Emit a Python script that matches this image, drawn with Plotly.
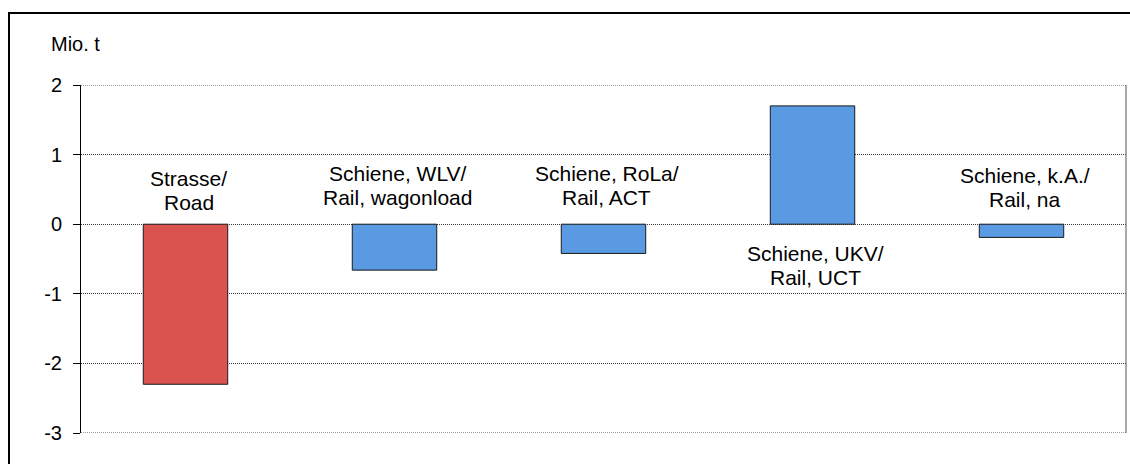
import plotly.graph_objects as go

# ---- data ----
categories = ["Strasse/Road", "Schiene, WLV/Rail, wagonload", "Schiene, RoLa/Rail, ACT",
              "Schiene, UKV/Rail, UCT", "Schiene, k.A./Rail, na"]
values = [-2.30, -0.66, -0.42, 1.70, -0.19]
label_line1 = ["Strasse/", "Schiene, WLV/", "Schiene, RoLa/", "Schiene, UKV/", "Schiene, k.A./"]
label_line2 = ["Road", "Rail, wagonload", "Rail, ACT", "Rail, UCT", "Rail, na"]
tick_vals = [-3, -2, -1, 0, 1, 2]
tick_text = ["-3", "-2", "-1", "0", "1", "2"]
y_title = "Mio. t"

# ---- layout/positions (not data) ----
label_y = [0.49, 0.56, 0.56, -0.60, 0.53]
bar_colors = ["#DA534F", "#5A9AE2", "#5A9AE2", "#5A9AE2", "#5A9AE2"]
W, H = 1130, 464
ML, MR, MT, MB = 81, 4, 85, 31
FONT = "Liberation Sans, Arial, sans-serif"
GRID = "#3a3a3a"

pw = W - ML - MR
ph = H - MT - MB

def px_to_paper_x(px):
    return (px - ML) / pw

def px_to_paper_y(py):
    return 1 - (py - MT) / ph

fig = go.Figure()
fig.add_trace(go.Bar(
    x=list(range(len(categories))), y=values,
    width=0.404,
    marker=dict(color=bar_colors, line=dict(color="#1a1a1a", width=1)),
    hoverinfo="skip",
))

annotations = []
for i in range(len(categories)):
    annotations.append(dict(x=i, y=label_y[i], xref="x", yref="y", text=label_line1[i],
                            showarrow=False, xanchor="center", yanchor="middle",
                            yshift=12, xshift=3, font=dict(family=FONT, size=21, color="#000")))
    annotations.append(dict(x=i, y=label_y[i], xref="x", yref="y", text=label_line2[i],
                            showarrow=False, xanchor="center", yanchor="middle",
                            yshift=-12, xshift=3, font=dict(family=FONT, size=21, color="#000")))
annotations.append(dict(x=px_to_paper_x(49), y=px_to_paper_y(44), xref="paper", yref="paper",
                        text=y_title, showarrow=False, xanchor="left", yanchor="middle",
                        font=dict(family=FONT, size=20, color="#000")))

shapes = [
    # outer chart frame: top and left edges (right/bottom are cropped away)
    dict(type="line", xref="paper", yref="paper",
         x0=px_to_paper_x(8), x1=px_to_paper_x(1130),
         y0=px_to_paper_y(13), y1=px_to_paper_y(13),
         line=dict(color="#000", width=2), layer="above"),
    dict(type="line", xref="paper", yref="paper",
         x0=px_to_paper_x(9), x1=px_to_paper_x(9),
         y0=px_to_paper_y(12), y1=px_to_paper_y(464),
         line=dict(color="#000", width=2), layer="above"),
    # right plot border
    dict(type="line", xref="paper", yref="paper", x0=1, x1=1, y0=0, y1=1,
         line=dict(color="#555", width=1)),
]
# dotted gridlines at the range ends
for yv in (tick_vals[0], tick_vals[-1]):
    shapes.append(dict(type="line", xref="paper", yref="y", x0=0, x1=1, y0=yv, y1=yv,
                       line=dict(color=GRID, width=1, dash="1px,1px"), layer="below"))

fig.update_layout(
    width=W, height=H,
    margin=dict(l=ML, r=MR, t=MT, b=MB),
    plot_bgcolor="white", paper_bgcolor="white",
    showlegend=False,
    font=dict(family=FONT, size=20, color="#000"),
    xaxis=dict(range=[-0.5, len(categories) - 0.5], showticklabels=False, showgrid=False,
               zeroline=False, showline=False, ticks=""),
    yaxis=dict(range=[-3, 2], tickvals=tick_vals, ticktext=tick_text, showgrid=True,
               gridcolor=GRID, griddash="1px,1px", gridwidth=1, zeroline=False,
               showline=True, linecolor="#000", linewidth=1, ticks="outside", ticklen=7,
               tickcolor="#000", tickwidth=1, ticklabelstandoff=7,
               tickfont=dict(family=FONT, size=20, color="#000")),
    annotations=annotations,
    shapes=shapes,
)

fig.write_html("out.html", config={"displayModeBar": False},
               post_script="document.body.style.margin='0';document.body.style.overflow='hidden';")
